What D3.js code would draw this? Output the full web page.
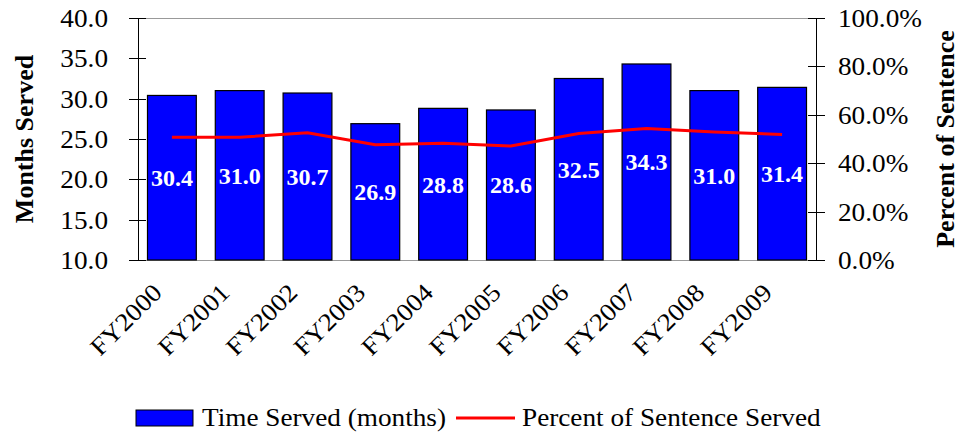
<!DOCTYPE html>
<html lang="en">
<head>
  <meta charset="UTF-8">
  <title>Time Served</title>
  <style>
    body { margin: 0; background: #fff; }
    svg text { font-family: "Liberation Serif", "Times New Roman", serif; }
    .axis path, .axis line { stroke: #000; shape-rendering: crispEdges; }
    .axis text { font-size: 25px; fill: #000; }
    .title { font-size: 26px; font-weight: bold; }
    .val { font-size: 24px; font-weight: bold; fill: #fff; }
    .legend text { font-size: 25px; }
  </style>
</head>
<body>
  <div id="chart"></div>
  <script src="https://d3js.org/d3.v7.min.js"></script>
  <script>
    // data
    const years = ["FY2000", "FY2001", "FY2002", "FY2003", "FY2004", "FY2005", "FY2006", "FY2007", "FY2008", "FY2009"];
    const months = [30.4, 31.0, 30.7, 26.9, 28.8, 28.6, 32.5, 34.3, 31.0, 31.4];
    const pct = [50.7, 50.7, 52.6, 47.6, 48.2, 47.1, 52.3, 54.3, 52.9, 51.9];
    const leftTicks = [10, 15, 20, 25, 30, 35, 40];
    const rightTicks = [0, 20, 40, 60, 80, 100];

    const W = 961, H = 433;
    const margin = { top: 18, right: 145, bottom: 173, left: 138 };
    const width = W - margin.left - margin.right;
    const height = H - margin.top - margin.bottom;
    const sx = 1.09; // the original font runs a bit wide

    const svg = d3.select("#chart").append("svg")
      .attr("width", W).attr("height", H);
    const g = svg.append("g")
      .attr("transform", "translate(" + margin.left + "," + margin.top + ")");

    const x = d3.scaleBand().domain(years).range([0, width]).paddingInner(0.28).paddingOuter(0.14);
    const xc = d3.scalePoint().domain(years).range([0, width]).padding(0.5);
    const y = d3.scaleLinear().domain([10, 40]).range([height, 0]);
    const y2 = d3.scaleLinear().domain([0, 100]).range([height, 0]);

    // plot area frame (light grey top/bottom)
    g.append("line").attr("x1", 0).attr("x2", width).attr("y1", 0).attr("y2", 0)
      .attr("stroke", "#999").attr("shape-rendering", "crispEdges");
    g.append("line").attr("x1", 0).attr("x2", width).attr("y1", height).attr("y2", height)
      .attr("stroke", "#999").attr("shape-rendering", "crispEdges");

    // bars
    g.selectAll(".bar").data(months).enter().append("rect")
      .attr("class", "bar")
      .attr("x", (d, i) => x(years[i]))
      .attr("y", d => y(d))
      .attr("width", x.bandwidth())
      .attr("height", d => height - y(d))
      .attr("fill", "#0000ff")
      .attr("stroke", "#000")
      .attr("stroke-width", 1.2);

    // value labels, centred in each bar
    g.selectAll(".val").data(months).enter().append("text")
      .attr("class", "val")
      .attr("x", (d, i) => x(years[i]) + x.bandwidth() / 2)
      .attr("y", d => (y(d) + height) / 2)
      .attr("dy", "0.35em")
      .attr("text-anchor", "middle")
      .text(d => d.toFixed(1));

    // percent line
    const line = d3.line()
      .x((d, i) => xc(years[i]))
      .y(d => y2(d));
    g.append("path").datum(pct)
      .attr("d", line)
      .attr("fill", "none")
      .attr("stroke", "#ff0000")
      .attr("stroke-width", 3);

    // stretch tick text horizontally around its anchor
    function widen(sel) {
      sel.each(function () {
        const t = d3.select(this);
        const tx = +t.attr("x") || 0;
        t.attr("x", 0).attr("dy", "0.34em")
          .attr("transform", "translate(" + tx + ",0) scale(" + sx + ",1)");
      });
    }

    // left axis with crossing ticks
    const ya = g.append("g").attr("class", "axis")
      .call(d3.axisLeft(y).tickValues(leftTicks).tickFormat(d3.format(".1f")).tickSize(9).tickPadding(21));
    ya.selectAll(".tick line").attr("x2", 8).attr("x1", -9);
    ya.select(".domain").attr("d", "M0,0V" + height);
    widen(ya.selectAll(".tick text"));

    // right axis
    const ra = g.append("g").attr("class", "axis")
      .attr("transform", "translate(" + width + ",0)")
      .call(d3.axisRight(y2).tickValues(rightTicks).tickFormat(d => d.toFixed(1) + "%").tickSize(9).tickPadding(13));
    ra.selectAll(".tick line").attr("x1", -8).attr("x2", 9);
    ra.select(".domain").attr("d", "M0,0V" + height);
    widen(ra.selectAll(".tick text"));

    // bottom labels rotated
    const xa = g.append("g").attr("class", "axis")
      .attr("transform", "translate(0," + height + ")")
      .call(d3.axisBottom(xc).tickSize(0).tickPadding(0));
    xa.select(".domain").remove();
    xa.selectAll(".tick text")
      .attr("text-anchor", "end")
      .attr("y", 0)
      .attr("dy", null)
      .attr("transform", "translate(-9,34) rotate(-45) scale(" + sx + ",1)");

    // axis titles
    svg.append("text").attr("class", "title")
      .attr("transform", "translate(33," + (margin.top + height / 2) + ") rotate(-90)")
      .attr("text-anchor", "middle").text("Months Served");
    svg.append("text").attr("class", "title")
      .attr("transform", "translate(954," + (margin.top + height / 2) + ") rotate(-90)")
      .attr("text-anchor", "middle").text("Percent of Sentence");

    // legend
    const lg = svg.append("g").attr("class", "legend");
    lg.append("rect").attr("x", 136).attr("y", 410).attr("width", 57).attr("height", 16)
      .attr("fill", "#0000ff").attr("stroke", "#000");
    lg.append("text").attr("transform", "translate(202,426) scale(" + sx + ",1)").text("Time Served (months)");
    lg.append("line").attr("x1", 456).attr("x2", 515).attr("y1", 418).attr("y2", 418)
      .attr("stroke", "#ff0000").attr("stroke-width", 3);
    lg.append("text").attr("transform", "translate(522,426) scale(" + sx + ",1)").text("Percent of Sentence Served");
  </script>
</body>
</html>
